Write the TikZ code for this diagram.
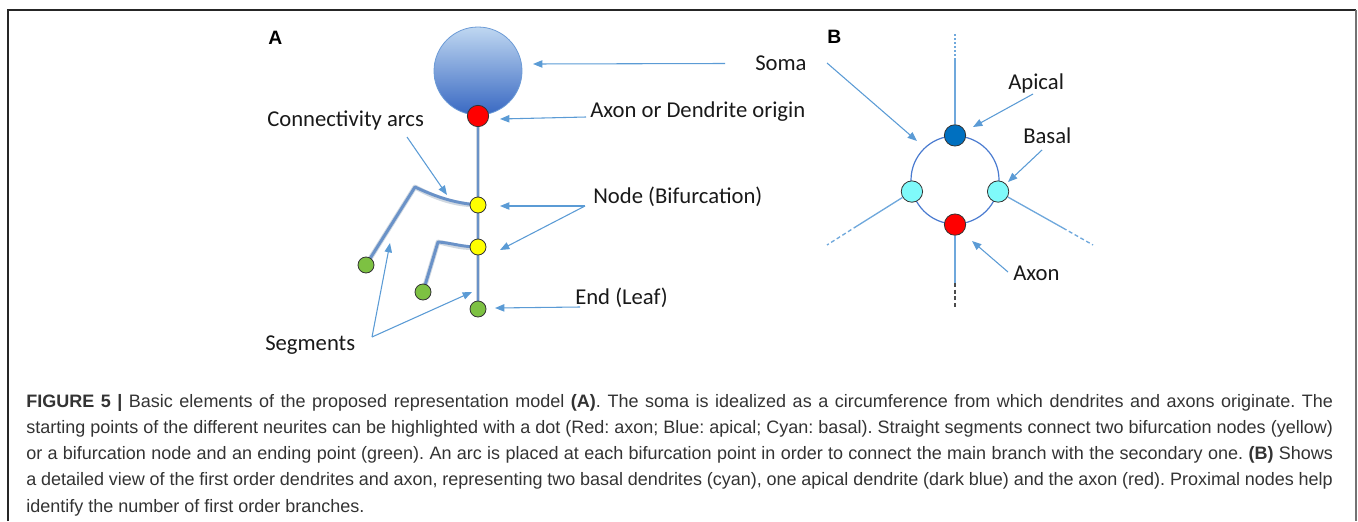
\documentclass[tikz,border=0pt]{standalone}
\usepackage{fontspec}
\usetikzlibrary{arrows.meta}
\frenchspacing
\newfontfamily\lblfont{Carlito}
\newfontfamily\capfont{Liberation Sans}
\newfontfamily\letfont{Liberation Sans}
\definecolor{arrowc}{HTML}{5B9BD5}
\definecolor{neurc}{HTML}{6A92C8}
\definecolor{shadc}{HTML}{A9B8C8}
\definecolor{circc}{HTML}{4A7BD0}
\definecolor{bline}{HTML}{6FA8DC}
\definecolor{dotline}{HTML}{333333}
\definecolor{redc}{HTML}{FF0000}
\definecolor{yelc}{HTML}{FFFF00}
\definecolor{grnc}{HTML}{7DC142}
\definecolor{apc}{HTML}{0070C0}
\definecolor{cyc}{HTML}{7FFAFA}
\definecolor{somatop}{HTML}{BFD7F1}
\definecolor{somamid}{HTML}{8EB2E1}
\definecolor{somabot}{HTML}{3868C2}
\definecolor{somaedge}{HTML}{6C9BD6}
\definecolor{capc}{HTML}{333333}
\tikzset{
  lbl/.style={inner sep=0pt, anchor=base west, font=\lblfont\fontsize{17}{20}\selectfont, text=black!90},
  letter/.style={inner sep=0pt, anchor=base west, font=\letfont\fontsize{14.5}{17}\selectfont\bfseries},
  capline/.style={inner sep=0pt, anchor=base west, font=\capfont\fontsize{13.5}{16}\selectfont, text=capc},
  dotbase/.style={circle, draw=dotline, line width=0.6pt, inner sep=0pt},
  bigdot/.style={dotbase, minimum size=16pt},
  smalldot/.style={dotbase, minimum size=12pt},
  pointer/.style={draw=arrowc, line width=0.8pt, -{Triangle[length=7pt,width=5.5pt]}},
  neurite/.style={draw=neurc, line width=2.2pt, line cap=round, line join=round},
  neushadow/.style={draw=shadc, line width=3.6pt, opacity=0.55, line cap=round, line join=round},
  bbranch/.style={draw=bline, line width=1pt},
  bdash/.style={draw=bline, line width=1pt, dash pattern=on 3pt off 2pt},
}
\begin{document}
\begin{tikzpicture}[x=0.75pt,y=-0.75pt]
\useasboundingbox (0,0) rectangle (1358,521);
% frame
\draw[black!85, line width=0.8pt] (8,521) -- (8,10) -- (1356,10);
\draw[black!55, line width=1.5pt] (1356,10) -- (1356,521);

% ---------- Panel A ----------
\node[letter] (lA) at (268,44) {A};
\node[circle, draw=somaedge, line width=0.6pt, minimum size=66pt, inner sep=0pt,
      top color=somatop, middle color=somamid, bottom color=somabot] (soma) at (478,71) {};
\coordinate (k1) at (415,187);
\coordinate (k2) at (438,242);
\coordinate (red0) at (478,116);
\coordinate (y1p) at (478,205);
\coordinate (y2p) at (478,247);
\coordinate (g3p) at (478,309);
\coordinate (g1p) at (366,265);
\coordinate (g2p) at (423,292);
% shadows
\begin{scope}[shift={(1.5,2)}]
\path[neushadow] (red0) -- (g3p);
\path[neushadow] (g1p) -- (k1) .. controls (432,195) and (452,203) .. (y1p);
\path[neushadow] (g2p) -- (k2) .. controls (452,243) and (462,247) .. (y2p);
\end{scope}
\path[neurite] (red0) -- (g3p);
\path[neurite] (g1p) -- (k1) .. controls (432,195) and (452,203) .. (y1p);
\path[neurite] (g2p) -- (k2) .. controls (452,243) and (462,247) .. (y2p);
\node[bigdot, fill=redc, minimum size=16pt] (red) at (red0) {};
\node[smalldot, fill=yelc] (y1) at (y1p) {};
\node[smalldot, fill=yelc] (y2) at (y2p) {};
\node[smalldot, fill=grnc] (g3) at (g3p) {};
\node[smalldot, fill=grnc] (g1) at (g1p) {};
\node[smalldot, fill=grnc] (g2) at (g2p) {};

% labels A
\node[lbl] (tsoma) at (755,70.5) {Soma};
\node[lbl] (taxor) at (590,117) {Axon or Dendrite origin};
\node[lbl] (tconn) at (267,126) {Connectivity arcs};
\node[lbl] (tnode) at (593,203.3) {Node (Bifurcation)};
\node[lbl] (tend) at (575,304) {End (Leaf)};
\node[lbl] (tseg) at (265,350) {Segments};

% pointer coordinates A
\coordinate (sA0) at (725,63.5); \coordinate (sA1) at (533,64);
\coordinate (ao0) at (586,117);  \coordinate (ao1) at (500,119);
\coordinate (cn0) at (407,137);  \coordinate (cn1) at (447,195);
\coordinate (nd0) at (585,206);  \coordinate (nd1) at (500,206); \coordinate (nd2) at (500,250);
\coordinate (en0) at (580,307);  \coordinate (en1) at (495,308);
\coordinate (sg0) at (372,337);  \coordinate (sg1) at (390,243); \coordinate (sg2) at (472,292);
\path[pointer] (sA0) -- (sA1);
\path[pointer] (ao0) -- (ao1);
\path[pointer] (cn0) -- (cn1);
\path[pointer] (nd0) -- (nd1);
\path[pointer] (nd0) -- (nd2);
\path[pointer] (en0) -- (en1);
\path[pointer] (sg0) -- (sg1);
\path[pointer] (sg0) -- (sg2);

% ---------- Panel B ----------
\node[letter] (lB) at (827,43.3) {B};
\node[circle, draw=circc, line width=0.9pt, minimum size=66pt, inner sep=0pt] (bsoma) at (955,180) {};
\node[bigdot, fill=apc] (ap) at (bsoma.90) {};
\node[bigdot, fill=cyc] (cl) at (bsoma.195) {};
\node[bigdot, fill=cyc] (cr) at (bsoma.345) {};
\node[bigdot, fill=redc] (ax) at (bsoma.270) {};
\coordinate (apm) at (955,60);   \coordinate (ape) at (955,32);
\coordinate (axm) at (955,283);  \coordinate (axe) at (955,308);
\coordinate (clm) at (857,226);  \coordinate (cle) at (827,245);
\coordinate (crm) at (1063,228); \coordinate (cre) at (1093,245);
\path[bbranch] (ap) -- (apm);
\path[draw=bline, line width=1pt, dash pattern=on 1.5pt off 1.5pt] (apm) -- (ape);
\path[bbranch] (ax) -- (axm);
\path[draw=black!70, line width=1pt, dash pattern=on 3pt off 2pt] (axm) -- (axe);
\path[bbranch] (cl) -- (clm);
\path[bdash] (clm) -- (cle);
\path[bbranch] (cr) -- (crm);
\path[bdash] (crm) -- (cre);

\node[lbl] (tap) at (1008,89) {Apical};
\node[lbl] (tbas) at (1023,143.3) {Basal};
\node[lbl] (taxB) at (1013,280.7) {Axon};
\coordinate (sB0) at (827,63);   \coordinate (sB1) at (917,141);
\coordinate (apa0) at (1033,94); \coordinate (apa1) at (973,127);
\coordinate (ba0) at (1042,150); \coordinate (ba1) at (1008,182);
\coordinate (xa0) at (1008,272); \coordinate (xa1) at (972,241);
\path[pointer] (sB0) -- (sB1);
\path[pointer] (apa0) -- (apa1);
\path[pointer] (ba0) -- (ba1);
\path[pointer] (xa0) -- (xa1);

% ---------- Caption ----------
\node[capline] (c1) at (26,407) {\makebox[980pt][s]{\textbf{FIGURE 5 |} Basic elements of the proposed representation model \textbf{(A)}. The soma is idealized as a circumference from which dendrites and axons originate. The}};
\node[capline] (c2) at (26,433.3) {\makebox[980pt][s]{starting points of the different neurites can be highlighted with a dot (Red: axon; Blue: apical; Cyan: basal). Straight segments connect two bifurcation nodes (yellow)}};
\node[capline] (c3) at (26,459.6) {\makebox[980pt][s]{or a bifurcation node and an ending point (green). An arc is placed at each bifurcation point in order to connect the main branch with the secondary one. \textbf{(B)} Shows}};
\node[capline] (c4) at (26,485.9) {\makebox[980pt][s]{a detailed view of the first order dendrites and axon, representing two basal dendrites (cyan), one apical dendrite (dark blue) and the axon (red). Proximal nodes help}};
\node[capline] (c5) at (26,512.2) {identify the number of first order branches.};
\end{tikzpicture}
\end{document}
